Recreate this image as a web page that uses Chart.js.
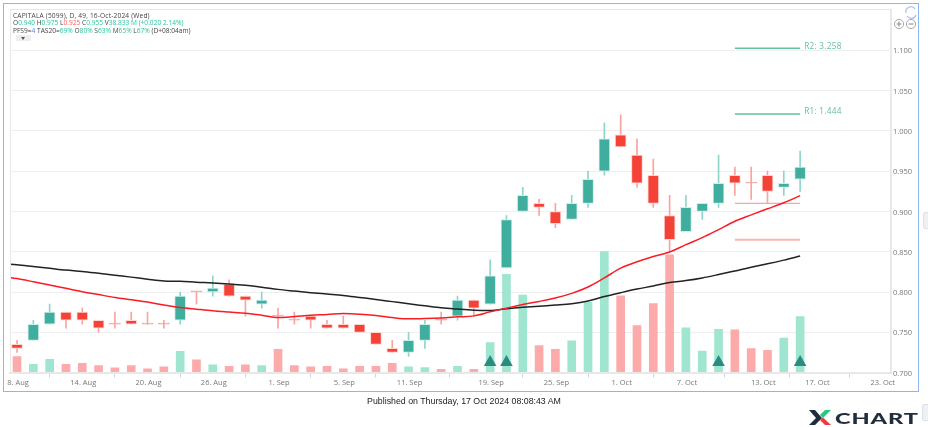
<!DOCTYPE html>
<html><head><meta charset="utf-8">
<script src="https://cdn.jsdelivr.net/npm/chart.js@4"></script>
<style>
html,body{margin:0;padding:0;background:#fff;width:928px;height:427px;overflow:hidden;font-family:"Open Sans",sans-serif}
#wrap{position:relative;width:928px;height:427px}
canvas{position:absolute;left:0;top:0}
.abs{position:absolute}
#frame{left:3px;top:3px;width:914px;height:387px;border:1px solid #8db5f2;box-sizing:content-box}
#inner{left:10px;top:9px;height:364px;border:1px solid #e8e8e8;border-right:2px solid #e8e8e8;box-sizing:border-box;width:882px}
.hd{left:13px;font-size:6.6px;line-height:8px;color:#444;white-space:nowrap}
.g{color:#25c7a0}.r{color:#ff5a5a}.b{color:#4a8df0}
#btn{left:16px;top:35px;width:15px;height:6px;background:#eee}
#btn:after{content:"";position:absolute;left:5px;top:2px;border:2.5px solid transparent;border-top:3px solid #555}
#pub{left:0;width:928px;top:395px;text-align:center;font-size:8.8px;line-height:12px;color:#222;font-family:"Liberation Sans",sans-serif}
#logoText{left:835px;top:408px;font-family:"Lato",sans-serif;font-weight:900;font-size:15.5px;line-height:20px;letter-spacing:.6px;color:#1f2d3d;transform-origin:left center;transform:scaleX(1.52)}
.hnd{background:#eef0f3;border:1px solid #dde1e6;border-radius:2px}
</style></head><body>
<div id="wrap">
<canvas id="c" width="928" height="427"></canvas>
<div class="abs" id="frame"></div>
<div class="abs" id="inner"></div>
<div class="abs hd" style="top:11.5px;letter-spacing:.17px">CAPITALA (5099), D, 49, 16-Oct-2024 (Wed)</div>
<div class="abs hd" style="top:19px">O<span class="g">0.940</span> H<span class="g">0.975</span> L<span class="r">0.925</span> C<span class="g">0.955</span> V<span class="g">38.833 M (+0.020 2.14%)</span></div>
<div class="abs hd" style="top:26.5px">PFS9=<span class="b">4</span> TAS20=<span class="g">69%</span> O<span class="g">80%</span> S<span class="g">63%</span> M<span class="g">65%</span> L<span class="g">67%</span> (D+08:04am)</div>
<div class="abs" id="btn"></div>
<svg class="abs" style="left:892px;top:4px" width="26" height="28" viewBox="0 0 26 28" fill="none">
<path d="M14 9 A5 5 0 0 1 23 5 M24 11 A5 5 0 0 1 15 12" stroke="#a9c0ee" stroke-width="1.2"/>
<circle cx="7" cy="20" r="4.6" stroke="#a8a8a8"/><path d="M4.5 20h5M7 17.5v5" stroke="#888"/>
<circle cx="19" cy="20" r="4.6" stroke="#a8a8a8"/><path d="M16.5 20h5" stroke="#888"/>
</svg>
<div class="abs" id="pub">Published on Thursday, 17 Oct 2024 08:08:43 AM</div>
<svg class="abs" style="left:809px;top:410px" width="22" height="16" viewBox="0 0 22 16">
<polygon points="0,0 6,0 13,8 6,15 0,15 7,8" fill="#1f2d3d"/>
<polygon points="11,5 16,0 22,0 14,8" fill="#27c97f"/>
<polygon points="11,10 14,7.5 22,15 16,15" fill="#ef3b3b"/>
</svg>
<div class="abs" id="logoText">CHART</div>
<div class="abs hnd" style="left:923px;top:212px;width:6px;height:15px"></div>
<div class="abs hnd" style="left:922px;top:404px;width:6px;height:15px"></div>
</div>
<script>
const tickIndexes=[0,4,8,12,16,20,24,29,33,37,41,45.68,49,53];
const tickLabels=["8. Aug","14. Aug","20. Aug","26. Aug","1. Sep","5. Sep","11. Sep","19. Sep","25. Sep","1. Oct","7. Oct","13. Oct","17. Oct","23. Oct"];
const priceTicks=[0.7,0.75,0.8,0.85,0.9,0.95,1.0,1.05,1.1];
const opens=[.735,.74,.76,.775,.775,.765,.76,.765,.76,.76,.765,.80,.80,.81,.795,.785,.77,.765,.77,.76,.76,.76,.75,.73,.725,.74,.765,.77,.79,.785,.83,.90,.91,.90,.89,.91,.95,.995,.97,.945,.895,.875,.90,.91,.945,.935,.945,.93,.94];
const highs=[.74,.765,.785,.775,.78,.765,.775,.775,.775,.765,.80,.80,.82,.815,.795,.80,.78,.775,.77,.765,.77,.76,.75,.74,.75,.765,.775,.795,.79,.84,.895,.93,.915,.91,.92,.95,1.01,1.02,.99,.965,.92,.92,.91,.97,.955,.955,.95,.95,.975];
const lows=[.725,.74,.76,.755,.76,.75,.755,.76,.76,.755,.76,.785,.795,.795,.77,.78,.755,.76,.755,.755,.755,.75,.735,.725,.72,.73,.76,.765,.77,.785,.83,.90,.895,.88,.89,.905,.945,.98,.93,.905,.85,.875,.89,.905,.92,.915,.91,.92,.925];
const closes=[.73,.76,.775,.765,.765,.755,.76,.76,.76,.76,.795,.80,.805,.795,.79,.79,.77,.765,.765,.755,.755,.75,.735,.725,.74,.76,.765,.79,.78,.82,.89,.92,.905,.885,.91,.94,.99,.98,.935,.91,.865,.905,.91,.935,.935,.935,.925,.935,.955];
const volumesM=[11.1,5.8,9.2,5.8,6.4,4.9,3.3,4.9,2.6,4.0,14.8,8.8,5.3,4.4,5.3,4.9,16.1,4.9,4.0,4.4,2.6,4.4,4.4,6.4,4.0,3.5,2.3,4.4,2.3,20.8,68.1,53.8,18.7,16.1,22.0,48.7,83.9,53.2,32.6,47.8,81.6,31.0,15.0,30.0,29.6,16.6,15.5,24.0,38.8];
const blackAvg=[.8354,.8338,.8316,.8294,.8272,.8255,.8232,.8208,.8185,.8160,.8138,.8133,.8122,.8113,.8100,.8083,.8060,.8033,.8012,.7992,.7975,.7958,.7933,.7908,.7881,.7854,.7829,.7804,.7788,.7775,.7771,.7792,.7810,.7825,.7838,.7854,.7888,.7944,.7992,.8037,.8075,.8117,.8142,.8175,.8217,.8262,.8308,.8350,.8396,.8446];
const redAvg=[.8200,.8167,.8128,.8088,.8046,.8004,.7968,.7933,.7904,.7875,.7840,.7808,.7787,.7767,.7752,.7738,.7713,.7683,.7696,.7712,.7721,.7733,.7725,.7708,.7683,.7667,.7671,.7679,.7692,.7704,.7754,.7800,.7846,.7883,.7925,.7983,.8063,.8175,.8296,.8375,.8442,.8496,.8588,.8675,.8775,.8879,.8958,.9033,.9108,.9196];
const signalBars=[29,30,43,48];
const signalPrice=0.7128;
const levelSpan=[44,48];
const resistance=[{name:"R2: 3.258",price:1.1025},{name:"R1: 1.444",price:1.021}];
const supports=[0.91,0.865];

const UP="#3fae9f",DN="#f44336",UPL="#8fd6ca",DNL="#fba3a0",VU="#9fe5d0",VD="#fdaaaa";
const n=opens.length, idx=[...Array(n).keys()];
const sideCol=(a,b)=>idx.map(i=>closes[i]>opens[i]?a:b);
const isDoji=i=>closes[i]===opens[i];

const labelPlugin={id:"levelLabels",afterDatasetsDraw(ch){
  const {ctx,scales:{x,y}}=ch;ctx.save();
  ctx.font='8.2px "Open Sans"';ctx.fillStyle="#5fbf9b";ctx.textBaseline="middle";ctx.letterSpacing="0.3px";
  resistance.forEach(r=>ctx.fillText(r.name,x.getPixelForValue(levelSpan[1])+4,y.getPixelForValue(r.price)-2));
  ctx.restore();}};

const levelLine=(p,col,w)=>({type:"line",order:2,data:levelSpan.map(x=>({x,y:p})),borderColor:col,borderWidth:w,pointRadius:0,xAxisID:"x",yAxisID:"y"});
const avgLine=(arr,col)=>({type:"line",order:1,data:arr.map((v,i)=>({x:i-1,y:v})),borderColor:col,borderWidth:1.5,pointRadius:0,cubicInterpolationMode:"monotone",xAxisID:"x",yAxisID:"y"});

new Chart(document.getElementById("c"),{
 type:"bar",
 plugins:[labelPlugin],
 data:{datasets:[
  {type:"scatter",order:0,data:signalBars.map(i=>({x:i,y:signalPrice})),pointStyle:"triangle",pointRadius:7.3,backgroundColor:"#2a8c80",borderColor:"#2a8c80",borderWidth:0,showLine:false,xAxisID:"x",yAxisID:"y"},
  avgLine(redAvg,"#fa1c24"),
  avgLine(blackAvg,"#222222"),
  ...resistance.map(r=>levelLine(r.price,"#62c09c",1.5)),
  levelLine(supports[0],"#f9a5a0",1.2),
  levelLine(supports[1],"#fbb5b0",2),
  {type:"bar",order:3,grouped:false,barThickness:11,minBarLength:1.2,data:idx.map(i=>({x:i,y:[opens[i],closes[i]]})),
   backgroundColor:idx.map(i=>isDoji(i)?DNL:(closes[i]>opens[i]?UP:DN)),
   borderColor:idx.map(i=>isDoji(i)?DNL:(closes[i]>opens[i]?"#cfeee9":"#fdd5d2")),borderWidth:1,borderSkipped:false,xAxisID:"x",yAxisID:"y"},
  {type:"bar",order:4,grouped:false,barThickness:1,data:idx.map(i=>({x:i,y:[lows[i],highs[i]]})),backgroundColor:sideCol(UPL,DNL),borderWidth:0,xAxisID:"x",yAxisID:"y"},
  {type:"bar",order:5,grouped:false,barThickness:8,data:idx.map(i=>({x:i,y:volumesM[i]})),backgroundColor:sideCol(VU,VD),borderWidth:0,xAxisID:"x",yAxisID:"yVol"}
 ]},
 options:{
  responsive:false,animation:false,events:[],
  layout:{padding:{left:10,top:9,right:0,bottom:0}},
  plugins:{legend:{display:false},tooltip:{enabled:false}},
  scales:{
   x:{type:"linear",offset:false,min:-0.43,max:53.57,
      afterBuildTicks(s){s.ticks=tickIndexes.map(value=>({value}));},
      afterFit(s){s.height=54.4;},
      grid:{drawOnChartArea:false,color:"#ccd6eb",tickLength:5,tickColor:"#ccd6eb"},
      border:{color:"#e6e6f5",width:2},
      ticks:{autoSkip:false,maxRotation:0,padding:1,labelOffset:1,color:"#777",font:{size:7.5,family:"Open Sans"},
        callback(v){const k=tickIndexes.indexOf(v);return k<0?"":tickLabels[k];}}},
   y:{position:"right",min:0.7,max:1.1513,
      afterBuildTicks(s){s.ticks=priceTicks.map(value=>({value}));},
      afterFit(s){s.width=37;},
      grid:{color:"#efefef",lineWidth:1,drawTicks:false},
      border:{display:false},
      ticks:{padding:2,labelOffset:1,color:"#777",font:{size:7.5,family:"Open Sans"},callback:v=>v.toFixed(3)}},
   yVol:{display:false,min:0,max:252}
  }
 }
});
</script>
</body></html>
